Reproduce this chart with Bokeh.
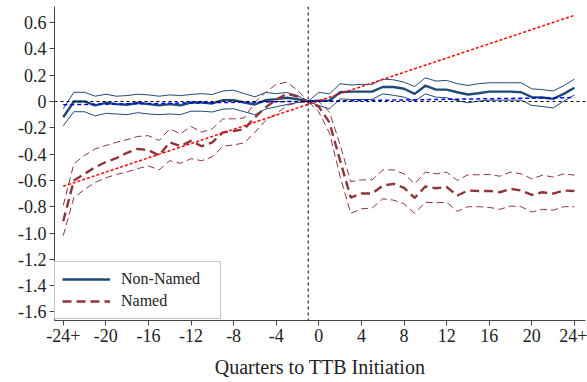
from bokeh.plotting import figure
from bokeh.models import Range1d, FixedTicker, Legend, LegendItem, Span
from bokeh.embed import file_html
from bokeh.resources import INLINE

# Event-time axis: quarters relative to TTB initiation (-24 and 24 are binned endpoints)
quarters = list(range(-24, 25))

# Non-Named: point estimates and 95% confidence bounds
nonnamed_est = [-0.12, 0.00, 0.00, -0.03, -0.01, -0.02, -0.025, -0.01, -0.02, -0.03,
                -0.02, -0.03, -0.008, -0.008, -0.015, 0.01, 0.01, -0.008, -0.023, 0.01,
                0.018, 0.028, 0.018, 0.0,
                0.005, 0.008, 0.07, 0.075, 0.075, 0.075, 0.11, 0.11, 0.097, 0.058,
                0.12, 0.09, 0.09, 0.07, 0.053, 0.063, 0.075, 0.075, 0.075, 0.07,
                0.033, 0.03, 0.02, 0.058, 0.105]
nonnamed_hi = [-0.055, 0.07, 0.07, 0.04, 0.055, 0.04, 0.045, 0.055, 0.05, 0.04,
               0.05, 0.045, 0.053, 0.06, 0.053, 0.08, 0.085, 0.06, 0.035, 0.068,
               0.06, 0.068, 0.045, 0.0,
               0.07, 0.058, 0.135, 0.125, 0.13, 0.13, 0.17, 0.165, 0.147, 0.114,
               0.18, 0.155, 0.16, 0.135, 0.122, 0.135, 0.142, 0.142, 0.142, 0.142,
               0.096, 0.09, 0.08, 0.12, 0.17]
nonnamed_lo = [-0.185, -0.078, -0.078, -0.11, -0.09, -0.095, -0.1, -0.085, -0.095, -0.1,
               -0.095, -0.1, -0.074, -0.074, -0.08, -0.058, -0.055, -0.078, -0.1, -0.058,
               -0.04, -0.023, -0.008, 0.0,
               -0.03, -0.056, 0.02, 0.015, 0.015, 0.015, 0.058, 0.047, 0.033, 0.003,
               0.058, 0.033, 0.028, 0.008, -0.01, 0.003, 0.01, 0.01, 0.01, 0.01,
               -0.03, -0.038, -0.05, 0.003, 0.05]

# Named: point estimates and 95% confidence bounds
named_est = [-0.91, -0.60, -0.55, -0.50, -0.46, -0.43, -0.39, -0.36, -0.37, -0.41,
             -0.31, -0.34, -0.30, -0.34, -0.31, -0.235, -0.225, -0.21, -0.12, -0.045,
             0.013, 0.058, 0.038, 0.0,
             -0.04, -0.16, -0.45, -0.73, -0.70, -0.70, -0.64, -0.626, -0.656, -0.733,
             -0.646, -0.66, -0.65, -0.715, -0.677, -0.68, -0.68, -0.69, -0.664, -0.677,
             -0.71, -0.69, -0.70, -0.677, -0.68]
named_hi = [-0.79, -0.474, -0.41, -0.36, -0.335, -0.31, -0.29, -0.266, -0.26, -0.297,
            -0.208, -0.246, -0.19, -0.233, -0.208, -0.132, -0.132, -0.125, -0.005, 0.07,
            0.13, 0.147, 0.084, 0.0,
            0.0, -0.08, -0.33, -0.61, -0.596, -0.596, -0.52, -0.52, -0.55, -0.626,
            -0.537, -0.55, -0.537, -0.60, -0.557, -0.557, -0.555, -0.568, -0.537, -0.55,
            -0.588, -0.56, -0.575, -0.55, -0.56]
named_lo = [-1.02, -0.73, -0.67, -0.615, -0.58, -0.555, -0.535, -0.51, -0.49, -0.52,
            -0.45, -0.47, -0.435, -0.45, -0.42, -0.34, -0.33, -0.315, -0.235, -0.145,
            -0.094, -0.03, -0.01, 0.0,
            -0.08, -0.24, -0.57, -0.85, -0.816, -0.81, -0.74, -0.75, -0.778, -0.85,
            -0.766, -0.77, -0.766, -0.836, -0.80, -0.80, -0.805, -0.82, -0.795, -0.80,
            -0.84, -0.82, -0.826, -0.80, -0.80]

# Linear pre-trend extrapolations
trend_x = [-24, 24]
nonnamed_trend = [-0.025, 0.03]
named_trend = [-0.645, 0.655]

# Axis ticks (plain hyphens for negatives; endpoints are open bins)
x_ticks = list(range(-24, 25, 4))
x_tick_labels = ["-24+", "-20", "-16", "-12", "-8", "-4", "0",
                 "4", "8", "12", "16", "20", "24+"]
y_ticks = [0.6, 0.4, 0.2, 0.0, -0.2, -0.4, -0.6, -0.8, -1.0, -1.2, -1.4, -1.6]
y_tick_labels = ["0.6", "0.4", "0.2", "0", "-0.2", "-0.4", "-0.6", "-0.8",
                 "-1.0", "-1.2", "-1.4", "-1.6"]

NAVY = "#1f4a75"
MAROON = "#8f343a"
FONT = "Liberation Serif"

p = figure(width=587, height=382, output_backend="svg", toolbar_location=None,
           x_range=Range1d(-24.82, 25.04), y_range=Range1d(-1.665, 0.722),
           min_border_left=54, min_border_right=2, min_border_top=6,
           min_border_bottom=62)
p.outline_line_color = None
p.grid.visible = False
p.background_fill_color = "white"
p.border_fill_color = "white"

# Confidence bounds
p.line(quarters, nonnamed_hi, line_color=NAVY, line_width=1)
p.line(quarters, nonnamed_lo, line_color=NAVY, line_width=1)
p.line(quarters, named_hi, line_color=MAROON, line_width=1, line_dash="7 4")
p.line(quarters, named_lo, line_color=MAROON, line_width=1, line_dash="7 4")

# Point estimates
r_nn = p.line(quarters, nonnamed_est, line_color=NAVY, line_width=2.4)
r_n = p.line(quarters, named_est, line_color=MAROON, line_width=2.4, line_dash="9 5")

# Reference lines at zero and at the omitted quarter
p.add_layout(Span(location=0, dimension="width", line_color="black",
                  line_width=1, line_dash="3 3"))
p.add_layout(Span(location=-1, dimension="height", line_color="black",
                  line_width=1, line_dash="3 3"))

# Trend lines
p.line(trend_x, nonnamed_trend, line_color="#0000ff", line_width=1.5, line_dash="4 3")
p.line(trend_x, named_trend, line_color="#ff0000", line_width=1.5, line_dash="3 2")

# Axes
for ax in (p.xaxis[0], p.yaxis[0]):
    ax.axis_line_color = "#444444"
    ax.major_tick_line_color = "#444444"
    ax.major_tick_out = 5
    ax.major_tick_in = 0
    ax.minor_tick_out = 0
    ax.minor_tick_in = 0
    ax.major_label_text_font = FONT
    ax.major_label_text_font_size = "18px"
    ax.major_label_text_color = "#222222"

p.xaxis.ticker = FixedTicker(ticks=x_ticks)
p.xaxis.major_label_overrides = dict(zip(x_ticks, x_tick_labels))
p.xaxis.major_label_standoff = 3
p.xaxis.axis_label = "Quarters to TTB Initiation"
p.xaxis.axis_label_text_font = FONT
p.xaxis.axis_label_text_font_size = "20px"
p.xaxis.axis_label_text_font_style = "normal"
p.xaxis.axis_label_text_color = "#222222"
p.xaxis.axis_label_standoff = 11

p.yaxis.ticker = FixedTicker(ticks=y_ticks)
p.yaxis.major_label_overrides = dict(zip(y_ticks, y_tick_labels))
p.yaxis.major_label_standoff = 3

legend = Legend(items=[LegendItem(label="Non-Named", renderers=[r_nn]),
                       LegendItem(label="Named", renderers=[r_n])],
                location=(0, 1), orientation="vertical")
legend.label_text_font = FONT
legend.label_text_font_size = "16px"
legend.label_text_color = "#222222"
legend.glyph_width = 48
legend.glyph_height = 20
legend.label_height = 20
legend.label_width = 92
legend.label_standoff = 11
legend.spacing = 2
legend.padding = 7
legend.margin = 0
legend.border_line_color = "#8c8c8c"
legend.border_line_width = 1
legend.background_fill_color = "white"
legend.background_fill_alpha = 1
p.add_layout(legend)

open("out.html", "w").write(file_html(p, INLINE))
